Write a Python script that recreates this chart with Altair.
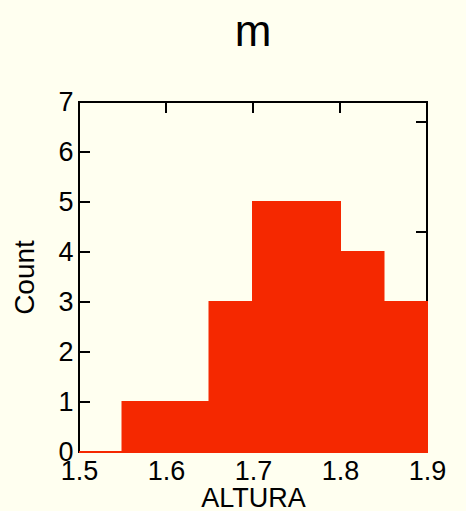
import altair as alt
import pandas as pd

bin_start = [1.50, 1.55, 1.60, 1.65, 1.70, 1.75, 1.80, 1.85]
bin_end = [1.55, 1.60, 1.65, 1.70, 1.75, 1.80, 1.85, 1.90]
counts = [0, 1, 1, 3, 5, 5, 4, 3]
x_ticks = [1.5, 1.6, 1.7, 1.8, 1.9]
y_ticks = [0, 1, 2, 3, 4, 5, 6, 7]
top_ticks = [1.6, 1.7, 1.8]
right_ticks = [2.2, 4.4, 6.6]

W, H = 348, 350
FONT = "Liberation Sans"
RED = "#f52800"

df = pd.DataFrame({"start": bin_start, "end": bin_end, "count": counts})

xs = alt.Scale(domain=[1.5, 1.9], nice=False, zero=False)
ys = alt.Scale(domain=[0, 7], nice=False)

ax_x = alt.Axis(values=x_ticks, format=".1f", domain=False, ticks=False,
                tickSize=0, labelPadding=6, labelFontSize=27, titleFontSize=27,
                titlePadding=1, labelFont=FONT, titleFont=FONT,
                labelColor="black", titleColor="black", titleFontWeight="normal",
                grid=False, labelFlush=False)
ax_y = alt.Axis(values=y_ticks, domain=False, ticks=False, tickSize=0,
                labelPadding=6, labelFontSize=27, titleFontSize=28,
                titlePadding=18, labelFont=FONT, titleFont=FONT,
                labelColor="black", titleColor="black", titleFontWeight="normal",
                grid=False, labelFlush=False)

bars = alt.Chart(df).mark_rect(color=RED, stroke=RED, strokeWidth=2).encode(
    x=alt.X("start:Q", scale=xs, title="ALTURA", axis=ax_x),
    x2="end:Q",
    y=alt.Y("count:Q", scale=ys, title="Count", axis=ax_y),
    y2=alt.datum(0),
)

left_t = alt.Chart(pd.DataFrame({"count": y_ticks})).mark_rule(color="black", strokeWidth=2).encode(
    y=alt.Y("count:Q", scale=ys, title="Count", axis=ax_y), x=alt.value(0), x2=alt.value(11))
top_t = alt.Chart(pd.DataFrame({"start": top_ticks})).mark_rule(color="black", strokeWidth=2).encode(
    x=alt.X("start:Q", scale=xs, title="ALTURA", axis=ax_x), y=alt.value(0), y2=alt.value(11))
right_t = alt.Chart(pd.DataFrame({"count": right_ticks})).mark_rule(color="black", strokeWidth=2).encode(
    y=alt.Y("count:Q", scale=ys, title="Count", axis=ax_y), x=alt.value(W - 11), x2=alt.value(W))

chart = alt.layer(top_t, right_t, left_t, bars).properties(
    width=W, height=H,
    title=alt.Title("m", fontSize=44, font=FONT, fontWeight="normal", color="black",
                    anchor="middle", frame="group", baseline="alphabetic", offset=-2),
    autosize=alt.AutoSizeParams(type="none"),
    padding={"left": 79, "top": 102, "right": 39, "bottom": 59},
    background="#fffff0",
).configure_view(stroke="black", strokeWidth=2)

chart.save("out.html", embed_options={"renderer": "svg", "actions": False})
